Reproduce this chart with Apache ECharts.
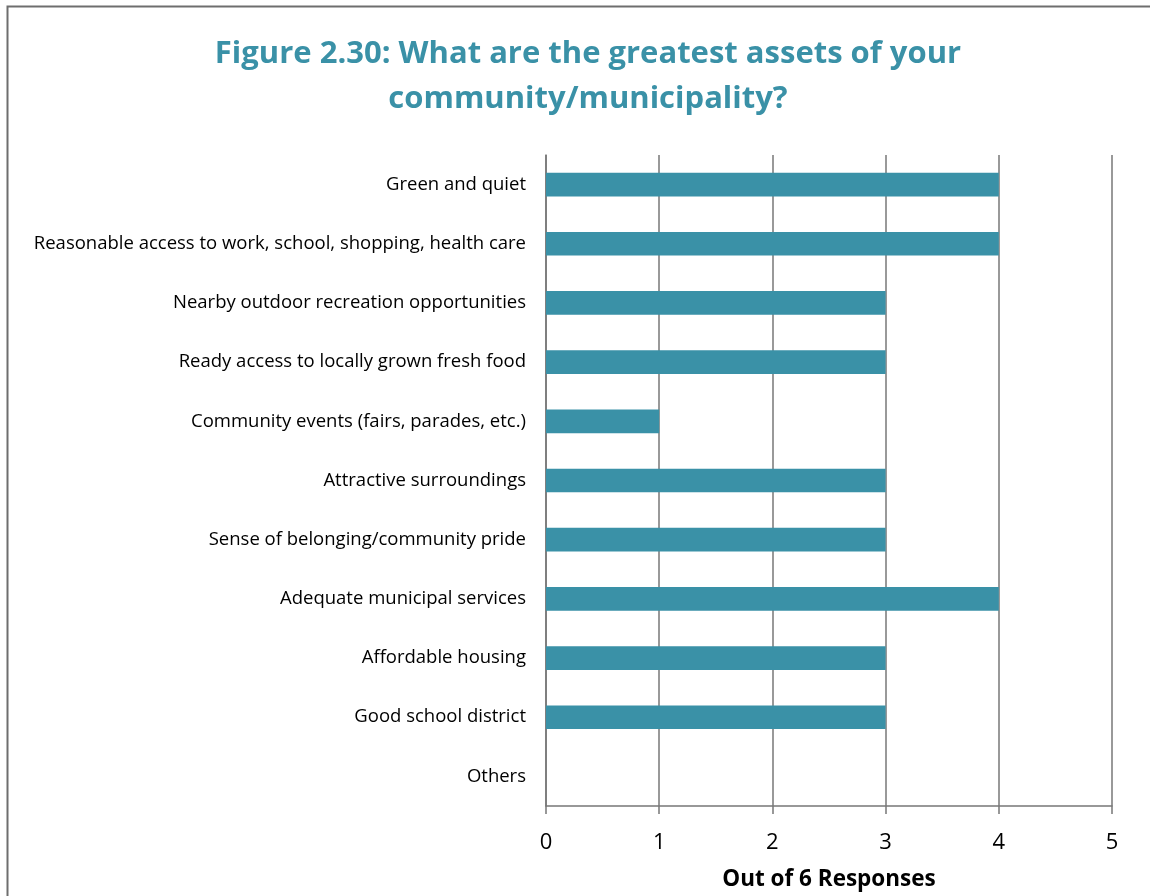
<!DOCTYPE html>
<html>
<head>
<meta charset="utf-8">
<script src="https://cdn.jsdelivr.net/npm/echarts@6/dist/echarts.min.js"></script>
<style>
  html, body { margin: 0; padding: 0; background: #fff; }
  #chart { width: 1150px; height: 896px; }
</style>
</head>
<body>
<div id="chart"></div>
<script>
// Survey answers: greatest assets of the community / municipality
const categories = [
  'Green and quiet',
  'Reasonable access to work, school, shopping, health care',
  'Nearby outdoor recreation opportunities',
  'Ready access to locally grown fresh food',
  'Community events (fairs, parades, etc.)',
  'Attractive surroundings',
  'Sense of belonging/community pride',
  'Adequate municipal services',
  'Affordable housing',
  'Good school district',
  'Others'
];
const responses = [4, 4, 3, 3, 1, 3, 3, 4, 3, 3, 0];
const titleLines = ['Figure 2.30: What are the greatest assets of your', 'community/municipality?'];
const xAxisName = 'Out of 6 Responses';

const FONT = '"Open Sans", sans-serif';
const chart = echarts.init(document.getElementById('chart'));

chart.setOption({
  backgroundColor: '#ffffff',
  animation: false,
  title: {
    text: titleLines.join('\n'),
    left: 583,
    top: 27,
    textAlign: 'center',
    textStyle: {
      fontFamily: FONT,
      fontWeight: 'bold',
      fontSize: 31,
      lineHeight: 45,
      color: '#3A91A7'
    }
  },
  graphic: [{
    type: 'rect',
    shape: { x: 7.5, y: 6.5, width: 1200, height: 1000 },
    style: { fill: 'none', stroke: '#6e6e6e', lineWidth: 2 },
    silent: true
  }],
  grid: { left: 546, right: 38, top: 155, bottom: 87 },
  xAxis: {
    type: 'value',
    min: 0,
    max: 5,
    interval: 1,
    name: xAxisName,
    nameLocation: 'middle',
    nameGap: 62,
    nameTextStyle: { fontFamily: FONT, fontWeight: 'bold', fontSize: 22.5, color: '#000' },
    axisLine: { show: true, lineStyle: { color: '#777', width: 1.5 } },
    axisTick: { show: true, length: 8, lineStyle: { color: '#777', width: 1.5 } },
    axisLabel: { fontFamily: FONT, fontSize: 22, color: '#000', margin: 26 },
    splitLine: { show: true, lineStyle: { color: '#777', width: 1.5 } }
  },
  yAxis: {
    type: 'category',
    data: categories,
    inverse: true,
    axisLine: { show: true, lineStyle: { color: '#777', width: 1.5 } },
    axisTick: { show: false },
    axisLabel: { fontFamily: FONT, fontSize: 18.5, color: '#000', margin: 20 }
  },
  series: [{
    type: 'bar',
    data: responses,
    barCategoryGap: '60%',
    itemStyle: { color: '#3A91A7' }
  }]
});
</script>
</body>
</html>
